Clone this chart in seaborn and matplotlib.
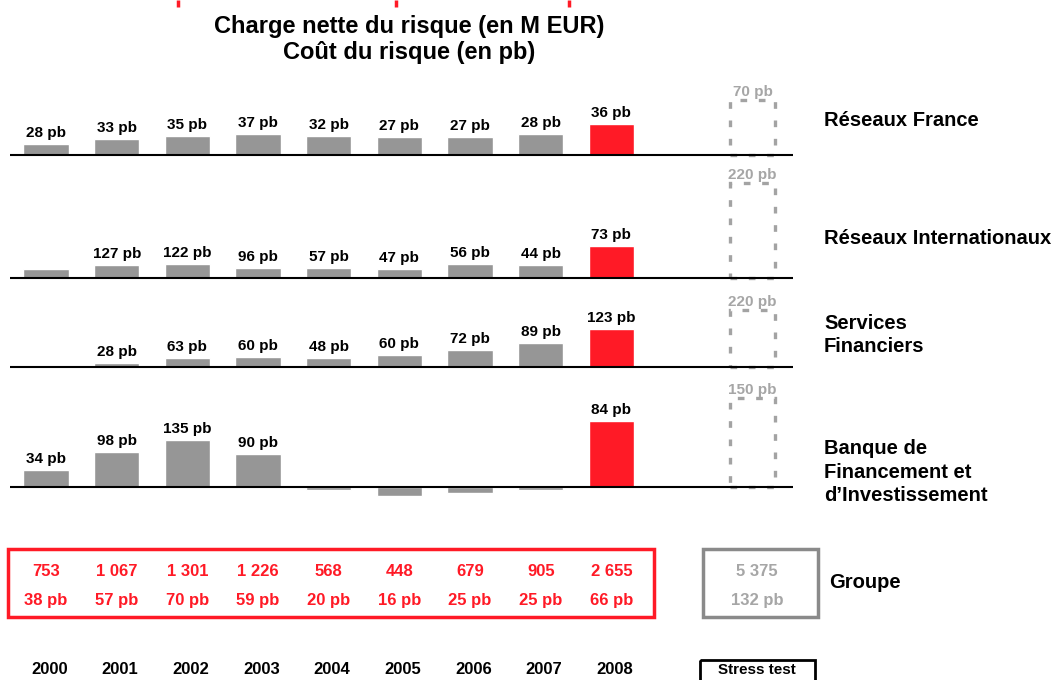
import numpy as np
import pandas as pd
import matplotlib
matplotlib.use("Agg")
import matplotlib.pyplot as plt
import matplotlib.transforms as mtransforms
from matplotlib.patches import Rectangle
import seaborn as sns

# ---------------- data ----------------
years = ["2000", "2001", "2002", "2003", "2004", "2005", "2006", "2007", "2008"]
stress_label = "Stress test"

segments = ["Réseaux France", "Réseaux Internationaux",
            "Services\nFinanciers", "Banque de\nFinancement et\nd\u2019Investissement"]

# charge nette du risque (M EUR)
rf_charge = [165, 240, 285, 315, 285, 270, 270, 315, 465]
ri_charge = [140, 195, 210, 150, 150, 140, 210, 195, 480]
sf_charge = [20, 60, 135, 150, 135, 180, 255, 360, 570]
bfi_charge = [250, 525, 705, 495, -45, -135, -90, -45, 990]
stress_charge = [825, 1425, 855, 1335]

# coût du risque labels
rf_pb = ["28 pb", "33 pb", "35 pb", "37 pb", "32 pb", "27 pb", "27 pb", "28 pb", "36 pb"]
ri_pb = [None, "127 pb", "122 pb", "96 pb", "57 pb", "47 pb", "56 pb", "44 pb", "73 pb"]
sf_pb = [None, "28 pb", "63 pb", "60 pb", "48 pb", "60 pb", "72 pb", "89 pb", "123 pb"]
bfi_pb = ["34 pb", "98 pb", "135 pb", "90 pb", None, None, None, None, "84 pb"]
stress_pb = ["70 pb", "220 pb", "220 pb", "150 pb"]

group_charge = ["753", "1 067", "1 301", "1 226", "568", "448", "679", "905", "2 655"]
group_pb = ["38 pb", "57 pb", "70 pb", "59 pb", "20 pb", "16 pb", "25 pb", "25 pb", "66 pb"]
group_stress_charge = "5 375"
group_stress_pb = "132 pb"
group_label = "Groupe"

title_lines = ["Charge nette du risque (en M EUR)", "Coût du risque (en pb)"]

# ---------------- style ----------------
sns.set_theme(style="white")
plt.rcParams["font.family"] = ["Liberation Sans", "DejaVu Sans"]
plt.rcParams["font.weight"] = "bold"
plt.rcParams["text.color"] = "black"

GRAY = "#969696"
RED = "#FF1A26"
DASH_GRAY = "#A3A3A3"
BOX_GRAY = "#8A8A8A"
TXT_GRAY = "#A6A6A6"

W, H = 1053, 680
fig = plt.figure(figsize=(W / 100, H / 100), dpi=100)

overlay = fig.add_axes([0, 0, 1, 1])
overlay.set_xlim(0, W)
overlay.set_ylim(H, 0)
overlay.axis("off")

order = years + [" ", stress_label]
XMIN, XMAX = -0.51, 10.57
SCALE = 15.0  # M EUR per pixel
BAR_W = 0.64

# (baseline px, top px, bottom px, label y px)
panel_layout = [(155, 80, 163, 121), (278, 166, 286, 238),
                (367, 290, 375, 335), (487, 378, 500, 472)]
charges = [rf_charge, ri_charge, sf_charge, bfi_charge]
pbs = [rf_pb, ri_pb, sf_pb, bfi_pb]

axes = []
for k, (base, top, bot, ly) in enumerate(panel_layout):
    ax = fig.add_axes([10 / W, 1 - bot / H, (793 - 10) / W, (bot - top) / H])
    ax.set_facecolor("none")
    df = pd.DataFrame({"year": years, "value": charges[k],
                       "kind": ["hist"] * 8 + ["cur"]})
    sns.barplot(data=df, x="year", y="value", hue="kind", order=order,
                hue_order=["hist", "cur"], palette={"hist": GRAY, "cur": RED},
                dodge=False, width=BAR_W, saturation=1, legend=False, ax=ax)
    sdf = pd.DataFrame({"year": [stress_label], "value": [stress_charge[k]]})
    sns.barplot(data=sdf, x="year", y="value", order=order, fill=False,
                color=DASH_GRAY, width=BAR_W, linewidth=2.4,
                linestyle=(0, (2, 3.5)), ax=ax)
    ax.set_xlim(XMIN, XMAX)
    ax.set_ylim(-(bot - base) * SCALE, (base - top) * SCALE)
    ax.axhline(0, color="black", lw=1.5, zorder=5)
    for s in ax.spines.values():
        s.set_visible(False)
    ax.set_xticks([])
    ax.set_yticks([])
    ax.set_xlabel("")
    ax.set_ylabel("")
    for i, lab in enumerate(pbs[k]):
        if lab is None:
            continue
        ax.annotate(lab, (i, charges[k][i]), xytext=(0, 3),
                    textcoords="offset points", ha="center", va="bottom",
                    fontsize=11, fontweight="bold", color="black")
    ax.annotate(stress_pb[k], (order.index(stress_label), stress_charge[k]),
                xytext=(0, 1), textcoords="offset points", ha="center",
                va="bottom", fontsize=11, fontweight="bold", color=TXT_GRAY)
    overlay.text(824, ly, segments[k], ha="left", va="center", fontsize=14.5,
                 fontweight="bold", color="black", linespacing=1.27)
    axes.append(ax)

# title
overlay.text(409, 27, title_lines[0], ha="center", va="center", fontsize=17,
             fontweight="bold", color="black")
overlay.text(409, 53, title_lines[1], ha="center", va="center", fontsize=17,
             fontweight="bold", color="black")

# red marks at the very top (slide artefacts)
for xm in (178, 396, 569):
    overlay.plot([xm, xm], [0, 7], color=RED, lw=2.5, solid_capstyle="butt")

# group row
trans = mtransforms.blended_transform_factory(axes[0].transData, overlay.transData)
for i in range(len(years)):
    overlay.text(i, 571, group_charge[i], transform=trans, ha="center",
                 va="center", fontsize=12, fontweight="bold", color=RED)
    overlay.text(i, 601, group_pb[i], transform=trans, ha="center",
                 va="center", fontsize=12, fontweight="bold", color=RED)
    overlay.text(i + 0.05, 670, years[i], transform=trans, ha="center",
                 va="center", fontsize=12, fontweight="bold", color="black")

overlay.add_patch(Rectangle((8, 549), 646, 68, fill=False, edgecolor=RED,
                            lw=2.5))
overlay.add_patch(Rectangle((703, 549), 115, 68, fill=False,
                            edgecolor=BOX_GRAY, lw=2.5))
overlay.text(757, 571, group_stress_charge, ha="center", va="center",
             fontsize=12, fontweight="bold", color=TXT_GRAY)
overlay.text(757, 601, group_stress_pb, ha="center", va="center",
             fontsize=12, fontweight="bold", color=TXT_GRAY)
overlay.text(829, 583, group_label, ha="left", va="center", fontsize=14.5,
             fontweight="bold", color="black")

overlay.add_patch(Rectangle((700, 660), 115, 32, fill=False,
                            edgecolor="black", lw=2, clip_on=False))
overlay.text(757, 670, stress_label, ha="center", va="center", fontsize=11,
             fontweight="bold", color="black")

fig.savefig("out.png", dpi=100, facecolor="white")
